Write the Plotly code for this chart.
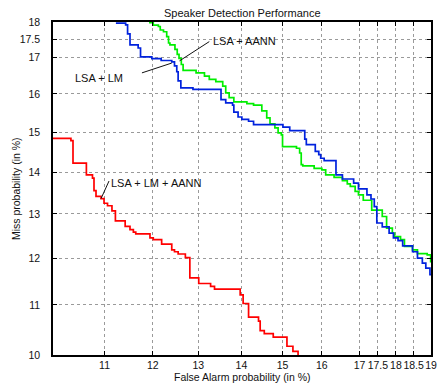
import plotly.graph_objects as go
from statistics import NormalDist

_nd = NormalDist()


def probit(pct):
    return _nd.inv_cdf(pct / 100.0)


# ---- tick labels ----
x_tick_vals = [11, 12, 13, 14, 15, 16, 17, 17.5, 18, 18.5, 19]
x_tick_text = ["11", "12", "13", "14", "15", "16", "17", "17.5", "18", "18.5", "19"]
y_tick_vals = [10, 11, 12, 13, 14, 15, 16, 17, 17.5, 18]
y_tick_text = ["10", "11", "12", "13", "14", "15", "16", "17", "17.5", "18"]

# ---- DET curves (False alarm %, Miss %), staircase corners ----
lsa_lm_aann_pfa = [10.0, 10.34, 10.38, 10.64, 10.76, 10.79, 10.83, 10.93, 10.99, 11.06, 11.15,
                   11.22, 11.42, 11.52, 11.59, 11.64, 11.94, 12.01, 12.19, 12.41, 12.47, 12.55,
                   12.71, 12.81, 13.01, 13.28, 13.37, 13.97, 14.04, 14.17, 14.41, 14.45, 14.55,
                   14.77, 15.11, 15.26, 15.39]
lsa_lm_aann_pmiss = [14.84, 14.78, 14.22, 13.93, 13.85, 13.55, 13.41, 13.36, 13.25, 13.19, 13.07,
                     12.84, 12.71, 12.64, 12.58, 12.54, 12.45, 12.41, 12.31, 12.18, 12.14, 12.09,
                     12.01, 11.57, 11.45, 11.39, 11.33, 11.21, 11.03, 10.75, 10.67, 10.48, 10.42,
                     10.35, 10.17, 10.07, 9.9]

lsa_lm_pfa = [11.23, 11.43, 11.47, 11.52, 11.69, 11.74, 11.98, 12.18, 12.41, 12.47, 12.52,
              12.55, 12.61, 12.88, 13.52, 13.63, 13.79, 13.82, 13.92, 14.01, 14.17, 14.29,
              15.01, 15.18, 15.56, 15.60, 15.83, 15.92, 15.97, 16.06, 16.37, 16.54, 16.84,
              16.97, 17.20, 17.31, 17.40, 17.47, 17.62, 17.81, 17.93, 18.06, 18.19, 18.47,
              18.61, 18.75, 18.85, 18.97, 19.03]
lsa_lm_pmiss = [17.97, 17.92, 17.66, 17.35, 17.26, 17.01, 16.96, 16.91, 16.87, 16.76, 16.60,
                16.35, 16.16, 16.12, 15.85, 15.76, 15.70, 15.52, 15.39, 15.33, 15.28, 15.19,
                15.13, 15.04, 14.82, 14.68, 14.51, 14.43, 14.34, 14.28, 13.93, 13.83, 13.73,
                13.59, 13.45, 13.35, 13.17, 12.79, 12.70, 12.56, 12.45, 12.39, 12.27, 12.14,
                12.00, 11.89, 11.78, 11.64, 11.53]

lsa_aann_pfa = [11.92, 12.01, 12.12, 12.16, 12.23, 12.30, 12.34, 12.37, 12.48, 12.53, 12.57,
                12.62, 12.66, 12.95, 13.14, 13.25, 13.40, 13.56, 13.63, 13.71, 13.82, 14.13,
                14.29, 14.49, 14.61, 14.69, 14.81, 14.89, 14.97, 15.00, 15.35, 15.43, 15.47,
                15.51, 15.80, 16.00, 16.10, 16.32, 16.54, 16.67, 16.75, 16.88, 16.97, 17.10,
                17.33, 17.62, 17.74, 17.90, 17.96, 18.13, 18.24, 18.47, 18.61, 18.89, 18.99,
                19.03]
lsa_aann_pmiss = [17.98, 17.91, 17.87, 17.77, 17.72, 17.58, 17.40, 17.35, 17.22, 17.08, 16.97,
                  16.80, 16.64, 16.57, 16.48, 16.39, 16.33, 16.21, 16.03, 15.90, 15.79, 15.74,
                  15.70, 15.55, 15.37, 15.21, 15.11, 14.98, 14.93, 14.63, 14.59, 14.47, 14.18,
                  14.15, 14.09, 14.05, 13.93, 13.87, 13.79, 13.71, 13.65, 13.53, 13.45, 13.32,
                  13.09, 12.94, 12.67, 12.56, 12.48, 12.41, 12.26, 12.18, 12.10, 12.07, 11.92,
                  11.89]

series = [
    ("LSA + AANN", lsa_aann_pfa, lsa_aann_pmiss, "#00ee00"),
    ("LSA + LM", lsa_lm_pfa, lsa_lm_pmiss, "#0022dd"),
    ("LSA + LM + AANN", lsa_lm_aann_pfa, lsa_lm_aann_pmiss, "#ff0000"),
]

fig = go.Figure()
for name, xs, ys, col in series:
    fig.add_trace(go.Scatter(
        x=[probit(v) for v in xs], y=[probit(v) for v in ys],
        mode="lines", line=dict(color=col, width=1.7, shape="hv"),
        name=name, showlegend=False, hoverinfo="skip"))

# ---- curve labels (text position, pointer line start/end in %) ----
labels = [
    ("LSA + AANN", 13.28, 17.47, "left", (13.25, 17.44), (12.58, 16.90)),
    ("LSA + LM", 11.42, 16.43, "right", (11.77, 16.57), (12.41, 16.84)),
    ("LSA + LM + AANN", 11.09, 13.74, "left", (11.09, 13.78), (10.93, 13.36)),
]
annotations = []
shapes = []
for text, tx, ty, anchor, p0, p1 in labels:
    annotations.append(dict(x=probit(tx), y=probit(ty), xref="x", yref="y", text=text,
                            showarrow=False, xanchor=anchor, yanchor="middle",
                            font=dict(size=11, color="#111")))
    shapes.append(dict(type="line", xref="x", yref="y",
                       x0=probit(p0[0]), y0=probit(p0[1]), x1=probit(p1[0]), y1=probit(p1[1]),
                       line=dict(color="#111", width=1)))

annotations += [
    dict(text="Speaker Detection Performance", x=0.5, y=1.027, xref="paper", yref="paper",
         showarrow=False, xanchor="center", yanchor="middle", font=dict(size=11, color="#111")),
    dict(text="False Alarm probability (in %)", x=0.5, y=-0.067, xref="paper", yref="paper",
         showarrow=False, xanchor="center", yanchor="middle", font=dict(size=10.5, color="#111")),
    dict(text="Miss probability (in %)", x=-0.099, y=0.5, xref="paper", yref="paper",
         showarrow=False, xanchor="center", yanchor="middle", textangle=-90,
         font=dict(size=10.5, color="#111")),
]

axis_common = dict(
    showline=True, linecolor="#000", linewidth=1.6, mirror="ticks",
    ticks="inside", ticklen=4, tickcolor="#000", tickwidth=1,
    showgrid=True, gridcolor="#9a9a9a", griddash="dot", gridwidth=1,
    zeroline=False, tickangle=0, tickfont=dict(size=10.5, color="#111"),
)

fig.update_layout(
    width=443, height=383,
    margin=dict(l=53, r=6, t=22, b=28),
    paper_bgcolor="white", plot_bgcolor="white",
    font=dict(family="Liberation Sans, Arial, sans-serif", size=11, color="#111"),
    showlegend=False,
    annotations=annotations, shapes=shapes,
    xaxis=dict(range=[probit(10), probit(19)],
               tickvals=[probit(v) for v in x_tick_vals], ticktext=x_tick_text,
               ticklabelstandoff=0, **axis_common),
    yaxis=dict(range=[probit(10), probit(18)],
               tickvals=[probit(v) for v in y_tick_vals], ticktext=y_tick_text,
               ticklabelstandoff=9, **axis_common),
)

fig.write_html("out.html", config={"displayModeBar": False},
               post_script="document.body.style.margin='0';document.body.style.padding='0';")
